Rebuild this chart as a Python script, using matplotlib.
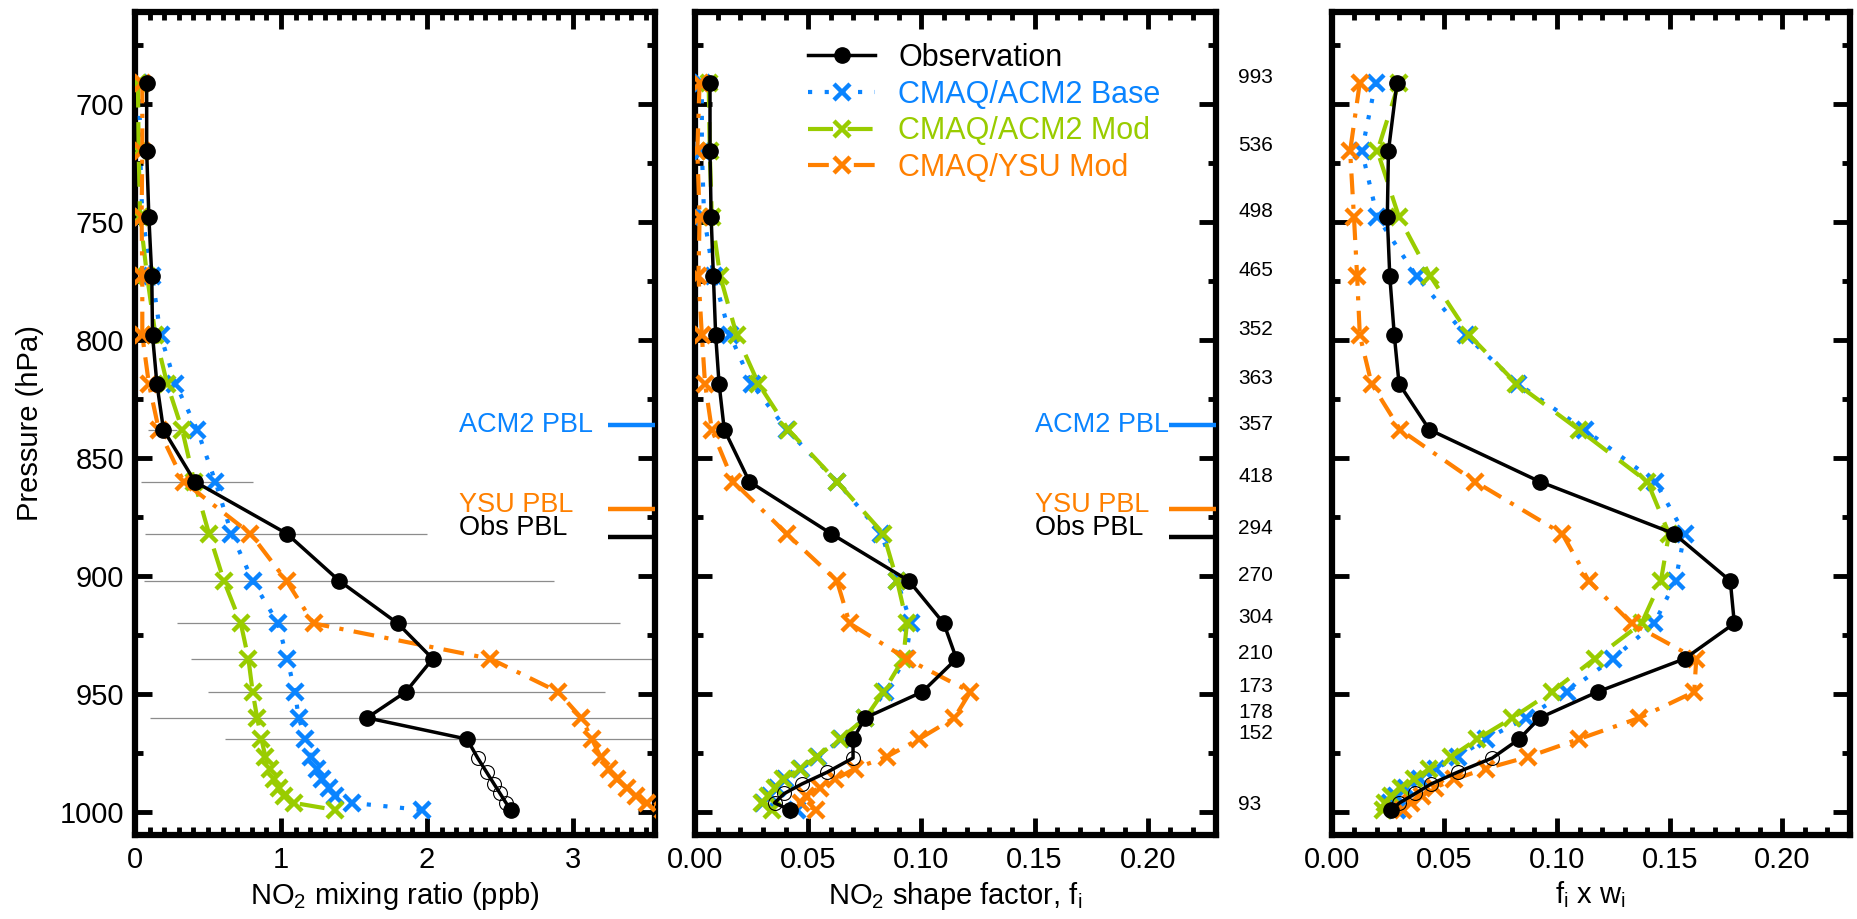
import numpy as np
import matplotlib
matplotlib.use("Agg")
import matplotlib.pyplot as plt
import matplotlib.transforms as mtransforms
from matplotlib.lines import Line2D
from matplotlib.ticker import MultipleLocator, FormatStrFormatter

plt.rcParams['font.family'] = ['Liberation Sans', 'DejaVu Sans']
plt.rcParams['mathtext.default'] = 'regular'

# === pressure levels (hPa) ===
p_obs = [691, 720, 748, 773, 798, 818.5, 838, 860, 882, 902, 920, 935, 949, 960, 969, 999]
p_circ = [977, 983, 988, 992, 996]
p_mod = [691, 720, 748, 773, 798, 818.5, 838, 860, 882, 902, 920, 935, 949, 960, 969,
         976.5, 981.5, 986, 989.5, 993, 996, 999]
n_obs = ['993', '536', '498', '465', '352', '363', '357', '418', '294', '270', '304',
         '210', '173', '178', '152', '93']

# === panel 1: NO2 mixing ratio (ppb) ===
mr_obs = [0.08, 0.08, 0.095, 0.115, 0.12, 0.15, 0.195, 0.41, 1.04, 1.40, 1.80, 2.04,
          1.855, 1.59, 2.275, 2.575]
mr_circ = [2.348, 2.409, 2.46, 2.501, 2.542]
mr_base = [0.03, 0.035, 0.05, 0.118, 0.175, 0.277, 0.426, 0.551, 0.661, 0.806, 0.98,
           1.043, 1.095, 1.122, 1.168, 1.203, 1.248, 1.282, 1.327, 1.373, 1.488, 1.967]
mr_mod = [0.02, 0.025, 0.035, 0.083, 0.14, 0.22, 0.323, 0.406, 0.507, 0.609, 0.725,
          0.777, 0.806, 0.837, 0.866, 0.894, 0.923, 0.951, 0.985, 1.019, 1.088, 1.373]
mr_ysu = [0.05, 0.05, 0.045, 0.05, 0.05, 0.095, 0.163, 0.333, 0.791, 1.038, 1.223,
          2.435, 2.899, 3.058, 3.13, 3.19, 3.245, 3.30, 3.37, 3.43, 3.51, 3.62]
err_p = [838, 860, 882, 902, 920, 935, 949, 960, 969]
err_lo = [0.09, 0.04, 0.07, 0.06, 0.29, 0.385, 0.50, 0.10, 0.62]
err_hi = [0.29, 0.81, 2.0, 2.87, 3.32, 3.7, 3.22, 3.7, 3.7]

# === panel 2: shape factor ===
sf_obs = [0.0066, 0.0066, 0.0071, 0.0081, 0.0091, 0.0106, 0.0129, 0.024, 0.0601, 0.0945,
          0.1099, 0.1155, 0.1004, 0.0752, 0.0698, 0.042]
sf_circ = [0.0698, 0.0584, 0.0472, 0.0395, 0.0351]
sf_base = [0.003, 0.003, 0.004, 0.0082, 0.0155, 0.025, 0.0405, 0.0627, 0.0823, 0.0893,
           0.0954, 0.093, 0.0841, 0.0753, 0.0645, 0.0545, 0.047, 0.0398, 0.036, 0.033,
           0.030, 0.045]
sf_mod = [0.006, 0.0065, 0.0074, 0.0111, 0.0184, 0.028, 0.0412, 0.0627, 0.0832, 0.0893,
          0.0936, 0.092, 0.0832, 0.0753, 0.064, 0.0537, 0.0464, 0.039, 0.0353, 0.0324,
          0.0294, 0.034]
sf_ysu = [0.002, 0.001, 0.002, 0.0015, 0.003, 0.0044, 0.0074, 0.0169, 0.0404, 0.0627,
          0.0683, 0.0935, 0.1216, 0.1146, 0.0989, 0.0846, 0.0706, 0.062, 0.055, 0.049,
          0.047, 0.0535]

# === panel 3: f_i x w_i ===
fw_obs = [0.029, 0.0252, 0.0247, 0.0258, 0.0278, 0.0299, 0.0434, 0.0924, 0.1519, 0.1769,
          0.1787, 0.1566, 0.118, 0.0923, 0.0832, 0.0265]
fw_circ = [0.0713, 0.0559, 0.0441, 0.0372, 0.0301]
fw_base = [0.0195, 0.0134, 0.0203, 0.0377, 0.0594, 0.0826, 0.1123, 0.1436, 0.1566, 0.1526,
           0.1432, 0.1248, 0.1045, 0.0863, 0.0685, 0.0559, 0.0463, 0.039, 0.0331, 0.0287,
           0.0257, 0.029]
fw_mod = [0.0299, 0.0203, 0.0299, 0.0438, 0.0611, 0.082, 0.1097, 0.1401, 0.1497, 0.1461,
          0.1375, 0.1167, 0.0976, 0.0802, 0.0646, 0.0529, 0.0434, 0.0367, 0.0309, 0.0265,
          0.0235, 0.023]
fw_ysu = [0.0125, 0.0082, 0.0099, 0.0113, 0.0125, 0.0177, 0.0304, 0.0637, 0.1023, 0.1141,
          0.1331, 0.1618, 0.1609, 0.1366, 0.1097, 0.0872, 0.0684, 0.0544, 0.046, 0.040,
          0.035, 0.0316]

# PBL heights (hPa)
pbl_names = ['ACM2 PBL', 'YSU PBL', 'Obs PBL']
pbl_p = [836, 871.4, 883.6]

BLUE = '#0a84ff'
GREEN = '#99cc00'
ORANGE = '#ff8000'
pbl_colors = [BLUE, ORANGE, 'black']

fig = plt.figure(figsize=(18.57, 9.19), dpi=100)
ax0 = fig.add_axes([0.0727, 0.0914, 0.2798, 0.8959])
ax1 = fig.add_axes([0.3743, 0.0914, 0.2803, 0.8959])
ax2 = fig.add_axes([0.7171, 0.0914, 0.2791, 0.8959])


def draw(ax, obs, circ, base, mod, ysu):
    ax.plot(base, p_mod, color=BLUE, ls=(0, (1, 3)), lw=3, marker='x', ms=12, mew=3.2,
            label='CMAQ/ACM2 Base', zorder=3)
    ax.plot(mod, p_mod, color=GREEN, ls=(0, (6, 3.5)), lw=3, marker='x', ms=12, mew=3.2,
            label='CMAQ/ACM2 Mod', zorder=3)
    ax.plot(ysu, p_mod, color=ORANGE, ls=(0, (5, 2.5, 1, 2.5)), lw=3, marker='x', ms=12,
            mew=3.2, label='CMAQ/YSU Mod', zorder=4)
    xs = np.r_[obs[:15], circ, obs[15:]]
    ps = np.r_[p_obs[:15], p_circ, p_obs[15:]]
    ax.plot(xs, ps, color='black', lw=2.5, zorder=5)
    ax.plot(circ, p_circ, 'o', mfc='none', mec='black', ms=10, mew=0.8, zorder=6)
    ax.plot(obs, p_obs, 'o', color='black', ms=11, zorder=7)

    ax.set_ylim(1009.6, 661)
    ax.yaxis.set_major_locator(MultipleLocator(50))
    ax.yaxis.set_minor_locator(MultipleLocator(25))
    ax.tick_params(which='both', direction='in', top=True, right=True, width=3.5,
                   labelsize=21, pad=8)
    ax.tick_params(which='major', length=12)
    ax.tick_params(which='minor', length=6)
    for s in ax.spines.values():
        s.set_linewidth(4.5)


draw(ax0, mr_obs, mr_circ, mr_base, mr_mod, mr_ysu)
draw(ax1, sf_obs, sf_circ, sf_base, sf_mod, sf_ysu)
draw(ax2, fw_obs, fw_circ, fw_base, fw_mod, fw_ysu)

# observed variability (grey bars)
ax0.hlines(err_p, err_lo, err_hi, color='#8c8c8c', lw=0.9, zorder=1)

ax0.set_xlim(0, 3.56)
ax0.xaxis.set_major_locator(MultipleLocator(1))
ax0.xaxis.set_minor_locator(MultipleLocator(0.1))
ax0.set_xlabel('NO$_2$ mixing ratio (ppb)', fontsize=21, labelpad=4)
ax0.set_ylabel('Pressure (hPa)', fontsize=21)
ax0.yaxis.set_label_coords(-0.175, 0.5)

for ax in (ax1, ax2):
    ax.set_xlim(0, 0.23)
    ax.xaxis.set_major_locator(MultipleLocator(0.05))
    ax.xaxis.set_minor_locator(MultipleLocator(0.01))
    ax.xaxis.set_major_formatter(FormatStrFormatter('%.2f'))
    ax.tick_params(labelleft=False)
ax1.set_xlabel('NO$_2$ shape factor, f$_i$', fontsize=21, labelpad=4)
ax2.set_xlabel('f$_i$ x w$_i$', fontsize=21, labelpad=4)

# PBL markers
text_dp = [0, -1.5, -4]
for ax, tx in ((ax0, 0.623), (ax1, 0.654)):
    tr = mtransforms.blended_transform_factory(ax.transAxes, ax.transData)
    for name, p, c, dp in zip(pbl_names, pbl_p, pbl_colors, text_dp):
        ax.plot([0.91, 1.0], [p, p], transform=tr, color=c, lw=3.2,
                solid_capstyle='butt', clip_on=False, zorder=8)
        ax.text(tx, p + dp, name, transform=tr, color=c, fontsize=19.5,
                ha='left', va='center')

# sample counts per level
tr1 = mtransforms.blended_transform_factory(ax1.transAxes, ax1.transData)
for p, s in zip(p_obs, n_obs):
    ax1.text(1.044, p, s, transform=tr1, fontsize=15, ha='left', va='baseline',
             clip_on=False)

# legend
handles = [Line2D([], [], color='black', lw=2.5, marker='o', ms=11)] + ax1.get_lines()[:3]
labels = ['Observation', 'CMAQ/ACM2 Base', 'CMAQ/ACM2 Mod', 'CMAQ/YSU Mod']
leg = ax1.legend(handles, labels, loc='upper left', bbox_to_anchor=(0.217, 0.962),
                 frameon=False, fontsize=22, handlelength=2.2, handletextpad=0.75,
                 labelspacing=0.22, borderpad=0, borderaxespad=0, numpoints=1)
for t, c in zip(leg.get_texts(), ['black', BLUE, GREEN, ORANGE]):
    t.set_color(c)

fig.savefig('out.png', dpi=100)
